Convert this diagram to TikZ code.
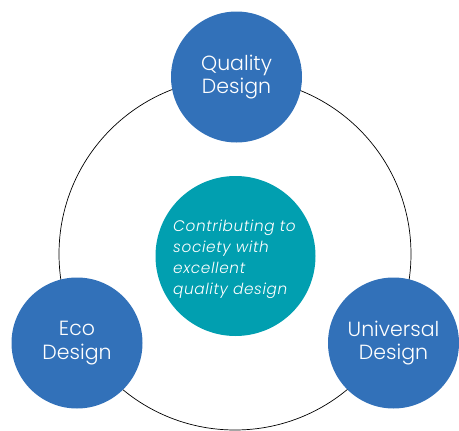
\documentclass[tikz,border=0pt]{standalone}
\usepackage{fontspec}
\setmainfont{Poppins Light}
\newfontfamily\centerfont[LetterSpace=4]{Poppins Light Italic}
\definecolor{ringblue}{HTML}{3271B9}
\definecolor{coreteal}{HTML}{019FB0}
\begin{document}
\begin{tikzpicture}[x=1pt,y=-1pt]
\tikzset{
  petal/.style={circle, fill=ringblue, minimum size=131pt, inner sep=0pt,
    text=white, align=center, font=\fontsize{20.5}{23.5}\selectfont},
  core/.style={circle, fill=coreteal, minimum size=160pt, inner sep=0pt,
    text=white},
  ring/.style={draw=black, line width=0.7pt}
}
\useasboundingbox (0,0) rectangle (459,431);
\coordinate (ringc) at (235,254);
\draw[ring] (ringc) circle[radius=176pt];
\node[core] (center) at (235.5,256) {};
\node[anchor=base west, text=white, align=left, inner sep=0pt,
  font=\centerfont\fontsize{15.3}{21}\selectfont] (centertext) at (173,294)
  {Contributing to\\society with\\excellent\\quality design};
\node[petal] (quality) at (236.5,77) {Quality\\Design};
\node[petal] (eco) at (77,343) {Eco\\Design};
\node[petal] (universal) at (393.5,343) {Universal\\Design};
\end{tikzpicture}
\end{document}
